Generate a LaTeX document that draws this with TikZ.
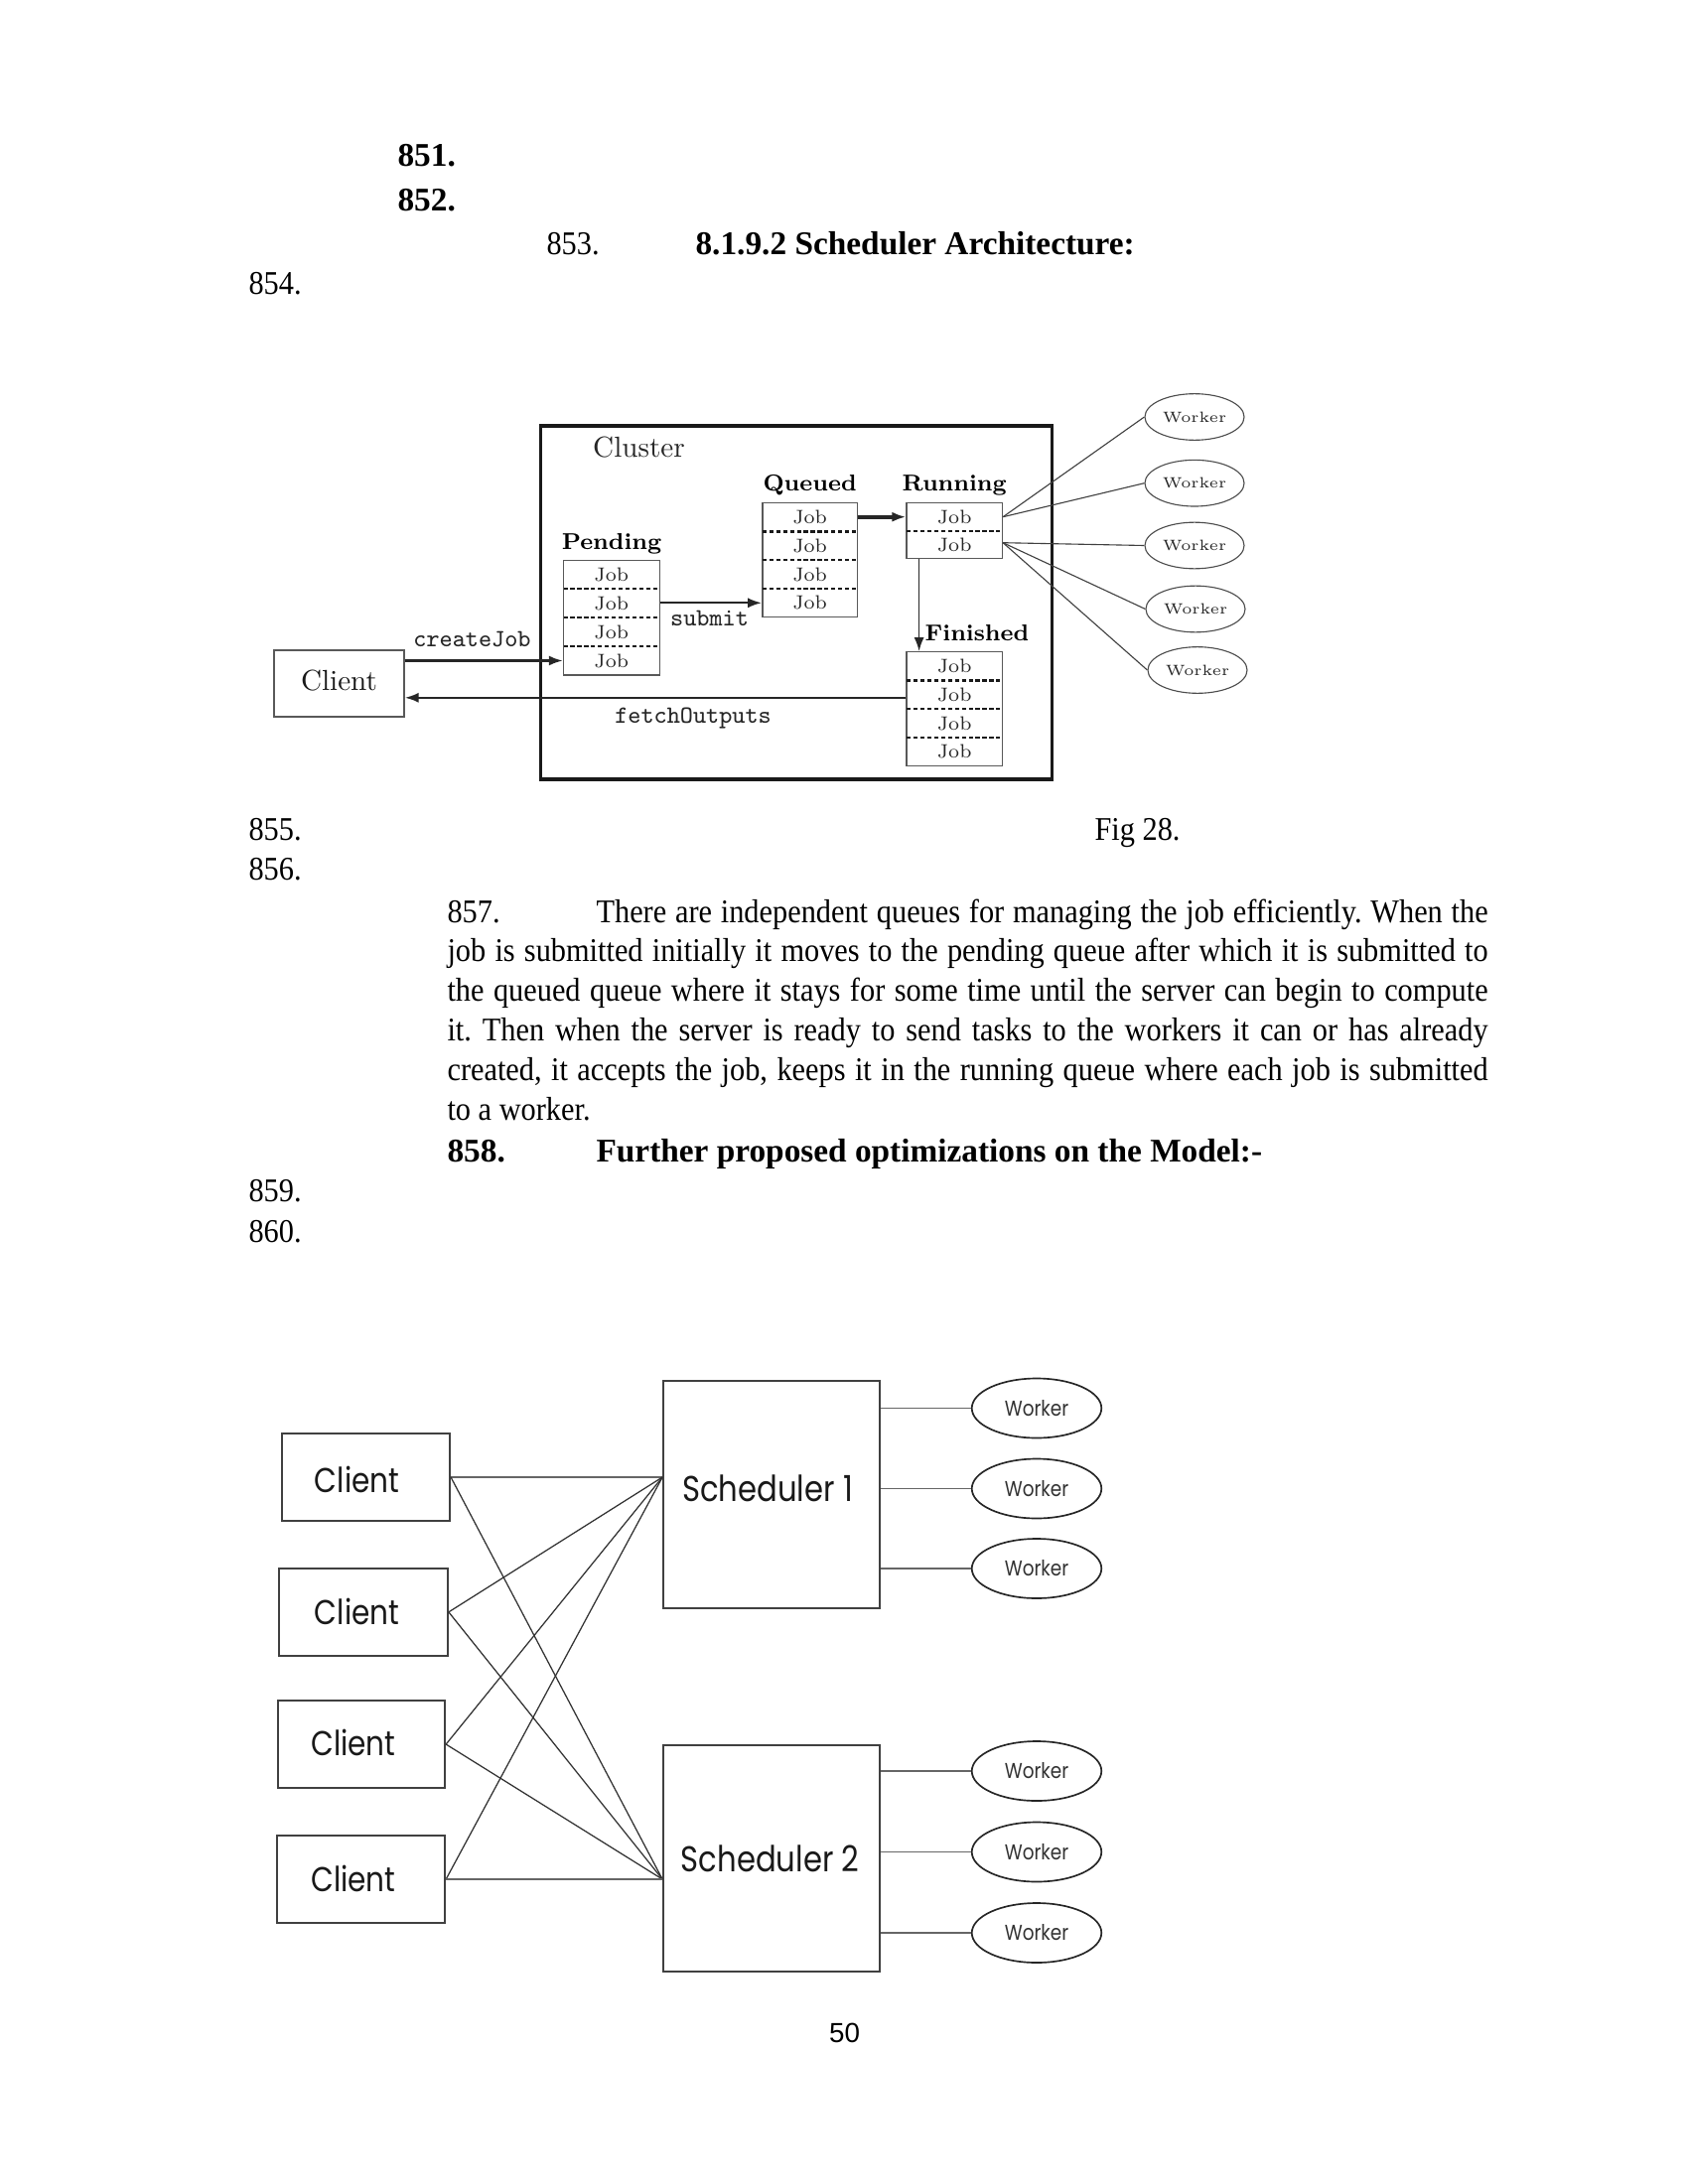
\documentclass[tikz,border=0pt]{standalone}
\usepackage{fontspec}
\newfontfamily\tnr{Liberation Serif}
\newfontfamily\tnrc[FakeStretch=0.91]{Liberation Serif}
\newfontfamily\arl{Liberation Sans}
\newfontfamily\fut[FakeStretch=0.85]{Poppins}
\usetikzlibrary{arrows.meta,shapes.geometric,fit,calc}
\newcommand\myfs[1]{\fontsize{#1}{#1}\selectfont}
\frenchspacing
\begin{document}
\begin{tikzpicture}[x=0.36pt,y=-0.36pt,
  txt/.style={inner sep=0pt, anchor=base west, font=\tnrc\myfs{12}},
  btxt/.style={inner sep=0pt, anchor=base west, font=\tnr\bfseries\myfs{12}},
  clusterbox/.style={draw=black!90, line width=1.3pt, inner sep=0pt},
  qbox/.style={draw=black!65, line width=0.5pt, inner sep=0pt},
  qlab/.style={inner sep=0pt, anchor=base, font=\bfseries\myfs{8.3}},
  job/.style={inner sep=0pt, font=\myfs{7}, text=black!85},
  ttlab/.style={inner sep=0pt, anchor=base, font=\ttfamily\myfs{9}, text=black!85},
  sepline/.style={line width=0.8pt, dash pattern=on 1.5pt off 1pt, black!90},
  arr/.style={line width=0.8pt, black!85, -{Latex[length=5pt,width=3.6pt]}},
  wk/.style={ellipse, draw=black!70, line width=0.4pt, inner sep=0pt, minimum width=36pt, minimum height=16.8pt, font=\myfs{5.4}, text=black!85},
  wline/.style={line width=0.4pt, black!75},
  cbox/.style={draw=black!75, line width=0.7pt, inner sep=0pt},
  futlab/.style={inner sep=0pt, anchor=base, font=\fut\myfs{12.5}, text=black!90},
  wk2/.style={ellipse, draw=black!85, line width=0.6pt, inner sep=0pt, minimum width=47pt, minimum height=21.6pt, font=\fut\myfs{7.8}, text height=5.6pt, text depth=0pt, text=black!80},
  link/.style={line width=0.45pt, black!80},
  hlink/.style={line width=0.8pt, black!60},
  wlink/.style={line width=0.7pt, black!60}
]
\useasboundingbox (0,0) rectangle (1700,2200);
\fill[white] (0,0) rectangle (1700,2200);

% ---------- page text ----------
\node[btxt] (n851) at (400,167.7) {851.};
\node[btxt] (n852) at (400,212.3) {852.};
\node[txt] (n853) at (550,256.7) {853.};
\node[btxt] (h853) at (700,256.7) {8.1.9.2 Scheduler Architecture:};
\node[txt] (n854) at (250,296.7) {854.};
\node[txt] (n855) at (250,846) {855.};
\node[txt] (fig) at (1102,846) {Fig 28.};
\node[txt] (n856) at (250,886) {856.};
\node[txt, font=\tnrc\fontsize{12}{14.35}\selectfont, text width=377.3pt, align=justify] (para) at (450,929)
{\hyphenpenalty=10000\relax\exhyphenpenalty=10000\relax
\makebox[54pt][l]{857.}There are independent queues for managing the job efficiently. When the\linebreak
job is submitted initially it moves to the pending queue after which it is submitted to\linebreak
the queued queue where it stays for some time until the server can begin to compute\linebreak
it. Then when the server is ready to send tasks to the workers it can or has already\linebreak
created, it accepts the job, keeps it in the running queue where each job is submitted\linebreak
to a worker.};
\node[btxt] (n858) at (450,1170) {858.};
\node[btxt] (h858) at (600,1170) {Further proposed optimizations on the Model:-};
\node[txt] (n859) at (250,1210.7) {859.};
\node[txt] (n860) at (250,1251) {860.};
\node[inner sep=0pt, anchor=base, font=\arl\myfs{10}] (pg) at (850.5,2057.3) {50};

% ---------- diagram 1 ----------
\node[clusterbox, fit={(544.5,429.3) (1059.6,785)}] (cluster) {};
\node[inner sep=0pt, anchor=base, font=\myfs{10.5}, text=black!85] (clab) at (643.5,460) {Cluster};
\node[qbox, fit={(276,655) (407,722)}] (client) {};
\node[inner sep=0pt, anchor=base, font=\myfs{10.5}, text=black!90] (clientt) at (341.5,695) {Client};

% Pending
\node[qlab] (plab) at (616,553) {Pending};
\node[qbox, fit={(567.5,564.3) (664.2,680)}] (pend) {};
\draw[sepline] (567.5,593.2) -- (664.2,593.2);
\draw[sepline] (567.5,622.1) -- (664.2,622.1);
\draw[sepline] (567.5,651.1) -- (664.2,651.1);
\node[job] (p1) at (615.8,578.8) {Job};
\node[job] (p2) at (615.8,607.7) {Job};
\node[job] (p3) at (615.8,636.6) {Job};
\node[job] (p4) at (615.8,665.5) {Job};

% Queued
\node[qlab] (qlab) at (815.6,494) {Queued};
\node[qbox, fit={(767.8,506.7) (863.5,621.7)}] (queued) {};
\draw[sepline] (767.8,535.4) -- (863.5,535.4);
\draw[sepline] (767.8,564.2) -- (863.5,564.2);
\draw[sepline] (767.8,592.9) -- (863.5,592.9);
\node[job] (q1) at (815.6,521.1) {Job};
\node[job] (q2) at (815.6,549.8) {Job};
\node[job] (q3) at (815.6,578.6) {Job};
\node[job] (q4) at (815.6,607.3) {Job};

% Running
\node[qlab] (rlab) at (961.2,494) {Running};
\node[qbox, fit={(913,506.7) (1009.4,562.7)}] (running) {};
\draw[sepline] (913,534.7) -- (1009.4,534.7);
\node[job] (r1) at (961.2,520.7) {Job};
\node[job] (r2) at (961.2,548.7) {Job};

% Finished
\node[qlab] (flab) at (984,645.7) {Finished};
\node[qbox, fit={(913,656.7) (1009.4,771.7)}] (finished) {};
\draw[sepline] (913,685.5) -- (1009.4,685.5);
\draw[sepline] (913,714.2) -- (1009.4,714.2);
\draw[sepline] (913,743) -- (1009.4,743);
\node[job] (f1) at (961.2,671.1) {Job};
\node[job] (f2) at (961.2,699.8) {Job};
\node[job] (f3) at (961.2,728.6) {Job};
\node[job] (f4) at (961.2,757.3) {Job};

% arrows
\draw[arr] (p4 -| client.east) -- (p4 -| pend.west);
\node[ttlab] (cj) at (475.5,651.7) {createJob};
\draw[arr] (q4 -| pend.east) -- (q4 -| queued.west);
\node[ttlab] (sub) at (714.5,630) {submit};
\draw[arr, line width=1.3pt] (r1 -| queued.east) -- (r1 -| running.west);
\draw[arr, line width=0.6pt] ($(running.south west)+(13.3,0)$) -- ($(finished.north west)+(13.3,0)$);
\draw[arr] ($(f2 -| finished.west)+(0,3)$) -- ($(f2 -| client.east)+(0,3)$);
\node[ttlab] (fo) at (698,728) {fetchOutputs};

% workers
\node[wk] (w1) at (1203,420) {Worker};
\node[wk] (w2) at (1203,486.7) {Worker};
\node[wk] (w3) at (1203,549.5) {Worker};
\node[wk] (w4) at (1204,613.5) {Worker};
\node[wk] (w5) at (1206,675) {Worker};
\coordinate (ra) at (r1 -| running.east);
\coordinate (rb) at ($(r2 -| running.east)+(0,-2)$);
\draw[wline] (ra) -- (w1.west);
\draw[wline] (ra) -- (w2.west);
\draw[wline] (rb) -- (w3.west);
\draw[wline] (rb) -- (w4.west);
\draw[wline] (rb) -- (w5.west);

% ---------- diagram 2 ----------
\node[cbox, fit={(283.6,1444) (453.1,1532)}] (c1) {};
\node[cbox, fit={(280.8,1580) (450.9,1667.7)}] (c2) {};
\node[cbox, fit={(279.7,1713.3) (448.2,1800.8)}] (c3) {};
\node[cbox, fit={(279.2,1849) (448.2,1937)}] (c4) {};
\node[futlab] (c1t) at (359.6,1503) {Client};
\node[futlab] (c2t) at (359.6,1636) {Client};
\node[futlab] (c3t) at (356,1768) {Client};
\node[futlab] (c4t) at (356,1905) {Client};
\node[cbox, fit={(668.1,1390.9) (886.4,1619.8)}] (s1) {};
\node[cbox, fit={(668.1,1757.8) (886.4,1986)}] (s2) {};
\node[futlab, font=\fut\myfs{13}] (s1t) at (773,1512.6) {Scheduler 1};
\node[futlab, font=\fut\myfs{13}] (s2t) at (775.7,1885.2) {Scheduler 2};
\coordinate (s1in) at (c1.east -| s1.west);
\coordinate (s2in) at (c4.east -| s2.west);
\draw[hlink] (c1.east) -- (s1in);
\draw[link] (c1.east) -- (s2in);
\draw[link] (c2.east) -- (s1in);
\draw[link] (c2.east) -- (s2in);
\draw[link] (c3.east) -- (s1in);
\draw[link] (c3.east) -- (s2in);
\draw[link] (c4.east) -- (s1in);
\draw[hlink] (c4.east) -- (s2in);

\node[wk2] (v1) at (1044,1418.5) {Worker};
\node[wk2] (v2) at (1044,1499.5) {Worker};
\node[wk2] (v3) at (1044,1580) {Worker};
\node[wk2] (v4) at (1044,1784) {Worker};
\node[wk2] (v5) at (1044,1865.5) {Worker};
\node[wk2] (v6) at (1044,1947) {Worker};
\foreach \v in {v1,v2,v3}{\draw[wlink] (\v.west -| s1.east) -- (\v.west);}
\foreach \v in {v4,v5,v6}{\draw[wlink] (\v.west -| s2.east) -- (\v.west);}
\end{tikzpicture}
\end{document}
